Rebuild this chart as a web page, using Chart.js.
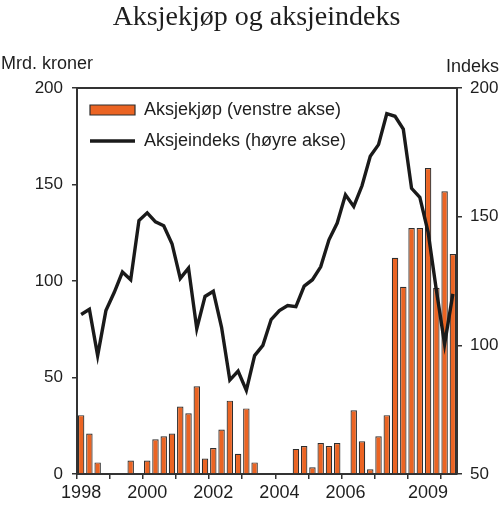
<!DOCTYPE html>
<html><head><meta charset="utf-8">
<script src="https://cdn.jsdelivr.net/npm/chart.js@4.4.0/dist/chart.umd.min.js"></script>
<style>html,body{margin:0;padding:0;background:#fff;}#wrap{width:500px;height:506px;position:relative;}</style>
</head><body><div id="wrap"><canvas id="c"></canvas></div>
<script>
const quarters = [
 '1998K1','1998K2','1998K3','1998K4','1999K1','1999K2','1999K3','1999K4',
 '2000K1','2000K2','2000K3','2000K4','2001K1','2001K2','2001K3','2001K4',
 '2002K1','2002K2','2002K3','2002K4','2003K1','2003K2','2003K3','2003K4',
 '2004K1','2004K2','2004K3','2004K4','2005K1','2005K2','2005K3','2005K4',
 '2006K1','2006K2','2006K3','2006K4','2007K1','2007K2','2007K3','2007K4',
 '2008K1','2008K2','2008K3','2008K4','2009K1','2009K2'];
const aksjekjop = [
 30.5,21,6,0,0,0,7,0,
 7,18,19.5,21,35,31.5,45.5,8,
 13.5,23,38,10.5,34,6,0,0,
 0,0,13,14.5,3.5,16,14.5,16,
 0,33,17,2.5,19.5,30.5,112,97,
 127.5,127.5,158.5,96.5,146.5,114];
const aksjeindeks = [
 112,114,96,113.5,120.5,128.5,125.5,148.5,
 151.5,148,146.5,139.5,126,130,106.5,119,
 121,107,86.5,90,82.5,96,100,110,
 113.5,115.5,115,123,125.5,130.5,141,147.5,
 158.5,154,162,173.5,178,190,189,184,
 161,157.5,144,121.5,100.5,120];
const xTickIndex = [0,8,16,24,32,42];
const xTickLabels = ['1998','2000','2002','2004','2006','2009'];
const leftTicks = [0,50,100,150,200];
const rightTicks = [50,100,150,200];

const AXIS = '#333333';
const TEXT = '#1e1e1e';

const decor = {
  id: 'decor',
  afterLayout(chart) {
    const lg = chart.legend, a = chart.chartArea;
    if (lg) { lg.top = a.top; lg.bottom = a.bottom; lg.left = a.left; lg.right = a.right; }
  },
  afterDraw(chart) {
    const ctx = chart.ctx, a = chart.chartArea;
    ctx.save();
    ctx.strokeStyle = AXIS; ctx.lineWidth = 2;
    ctx.beginPath(); ctx.moveTo(a.left, a.top); ctx.lineTo(a.right, a.top); ctx.stroke();
    ctx.fillStyle = TEXT;
    ctx.textBaseline = 'alphabetic';
    ctx.font = '28px "Liberation Serif"';
    ctx.textAlign = 'center';
    ctx.fillText('Aksjekjøp og aksjeindeks', 256.5, 25);
    ctx.font = '18px "Liberation Sans"';
    ctx.textAlign = 'left';
    ctx.fillText('Mrd. kroner', 1, 69);
    ctx.textAlign = 'right';
    ctx.fillText('Indeks', 499, 71.5);
    ctx.restore();
  }
};

new Chart(document.getElementById('c'), {
  type: 'bar',
  data: {
    labels: quarters,
    datasets: [
      { type: 'bar', label: 'Aksjekjøp (venstre akse)', data: aksjekjop, yAxisID: 'y',
        backgroundColor: '#EB6423', borderColor: '#2e2e2e', borderWidth: 1.2,
        barPercentage: 0.78, categoryPercentage: 1, pointStyle: 'rect', order: 1 },
      { type: 'line', label: 'Aksjeindeks (høyre akse)', data: aksjeindeks, yAxisID: 'y1',
        borderColor: '#1a1a1a', borderWidth: 3.4, pointRadius: 0, pointHoverRadius: 0,
        pointStyle: 'line', pointBorderColor: '#1a1a1a', pointBorderWidth: 3.4,
        tension: 0, fill: false, order: 0, borderJoinStyle: 'miter' }
    ]
  },
  options: {
    responsive: true, maintainAspectRatio: false, animation: false,
    layout: { padding: { top: 88, left: 0, right: 0, bottom: 0 } },
    plugins: {
      tooltip: { enabled: false },
      legend: {
        position: 'chartArea', align: 'start',
        labels: {
          usePointStyle: true, pointStyleWidth: 45, boxHeight: 10, padding: 13,
          color: TEXT, font: { family: '"Liberation Sans"', size: 18 },
          sort: (a, b) => a.datasetIndex - b.datasetIndex
        }
      }
    },
    scales: {
      x: {
        type: 'category', offset: true,
        afterFit: s => { s.height = 32; },
        border: { display: true, color: AXIS, width: 2 },
        grid: { offset: true, drawOnChartArea: false, drawTicks: true, tickLength: 5,
          lineWidth: 1.5,
          color: c => (c.index !== undefined && c.index % 4 === 0) ? AXIS : 'rgba(0,0,0,0)',
          tickColor: c => (c.index !== undefined && c.index % 4 === 0) ? AXIS : 'rgba(0,0,0,0)' },
        ticks: { autoSkip: false, maxRotation: 0, minRotation: 0, padding: 3, color: TEXT,
          font: { family: '"Liberation Sans"', size: 18 },
          callback: (v, i) => { const k = xTickIndex.indexOf(i); return k >= 0 ? xTickLabels[k] : ''; } }
      },
      y: {
        position: 'left', min: 0, max: 200,
        afterFit: s => { s.width = 77; },
        afterBuildTicks: s => { s.ticks = leftTicks.map(v => ({ value: v })); },
        border: { display: true, color: AXIS, width: 2 },
        grid: { drawOnChartArea: false, drawTicks: true, tickLength: 5, color: AXIS, lineWidth: 1.5 },
        ticks: { padding: 9, color: TEXT, font: { family: '"Liberation Sans"', size: 17 } }
      },
      y1: {
        position: 'right', min: 50, max: 200,
        afterFit: s => { s.width = 43; },
        afterBuildTicks: s => { s.ticks = rightTicks.map(v => ({ value: v })); },
        border: { display: true, color: AXIS, width: 2 },
        grid: { drawOnChartArea: false, drawTicks: true, tickLength: 5, color: AXIS, lineWidth: 1.5 },
        ticks: { padding: 8, color: TEXT, font: { family: '"Liberation Sans"', size: 17 } }
      }
    }
  },
  plugins: [decor]
});
</script></body></html>
